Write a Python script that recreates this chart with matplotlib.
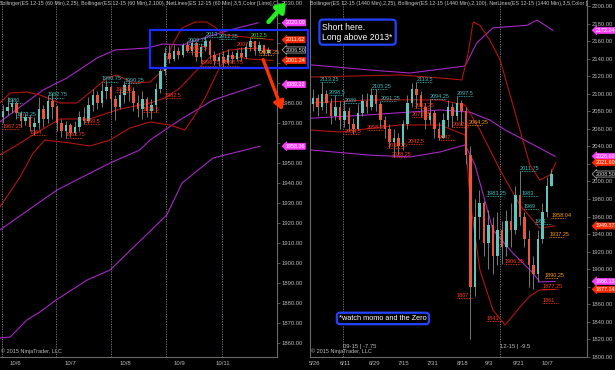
import matplotlib
matplotlib.use("Agg")
import matplotlib.pyplot as plt
import numpy as np
from matplotlib.patches import Rectangle
from matplotlib.transforms import blended_transform_factory

plt.rcParams['font.family'] = ['Liberation Sans', 'DejaVu Sans']

# ---------------- LEFT PANEL (ES 12-15, 60 min) ----------------
l_close = [1976, 1978, 1980, 1975, 1971, 1973, 1968, 1970, 1977, 1972,
           1981, 1978, 1970, 1966, 1969, 1965, 1968, 1973, 1971, 1979,
           1984, 1980, 1986, 1988, 1982, 1978, 1984, 1989, 1986, 1980,
           1977, 1982, 1976, 1979, 1987, 1996, 2005, 2002, 2006, 2004,
           2009, 2006, 2010, 2003, 2008, 2011, 2004, 2001, 2003, 2000,
           2004, 2002, 2005, 2003, 2008, 2011, 2006, 2009, 2005, 2006.5]
l_high = [1979, 1983, 1982.5, 1981, 1976, 1975, 1974, 1973, 1983, 1979,
          1984, 1985, 1979, 1972, 1971, 1970, 1971, 1976, 1978, 1983,
          1987, 1986, 1990, 1991.5, 1989, 1984, 1987, 1991, 1991, 1988,
          1984, 1986, 1983, 1982, 1990, 1998, 2008, 2009, 2009, 2008,
          2010, 2011, 2012, 2011, 2010, 2013.5, 2012, 2006, 2005, 2006,
          2007, 2006, 2007, 2008, 2010, 2012.5, 2011, 2011, 2009, 2008]
l_low = [1970, 1974, 1975, 1972, 1968, 1969, 1966, 1964, 1967, 1968,
         1970, 1972, 1966, 1963, 1962.75, 1963, 1964, 1966, 1969.5, 1970,
         1976, 1977, 1978, 1982, 1975, 1971.5, 1977, 1980, 1981, 1976,
         1973, 1972, 1973, 1972, 1975.5, 1985, 1994, 2000, 2001, 2002,
         2003, 2005.5, 2004, 2001, 2000, 2006, 2002, 1999, 1998.75, 1998,
         1999, 2000, 2001, 2001, 2002, 2006, 2004, 2005, 2004, 2004.25]
l_first_open = 1973

# band lines (bar index, price)
l_bb100_up_x = [-0.7, 8.9, 14.2, 20.9, 24.9, 32.0, 35.6, 40.0, 43.1, 50.4, 56.7]
l_bb100_up_y = [1970.5, 1986.5, 1992.5, 2002.5, 2006.5, 2007.5, 2009.5, 2009, 2011.5, 2016.5, 2020.09]
l_bb100_mid_x = [-0.7, 12.0, 23.8, 30.4, 32.7, 39.3, 46.7, 57.1]
l_bb100_mid_y = [1916.5, 1936.5, 1950, 1956.5, 1961.5, 1971.5, 1981.5, 1989.22]
l_bb100_lo_x = [-0.7, 1.6, 5.3, 8.2, 11.8, 18.7, 23.8, 36.4, 39.8, 46.7, 57.1]
l_bb100_lo_y = [1862.5, 1863, 1871.5, 1875.5, 1881.5, 1891.5, 1896.5, 1924, 1940, 1952.5, 1958.36]

l_bb25_up_x = [-0.7, 1.6, 5.3, 8.2, 12.7, 16.4, 20.0, 23.1, 25.3, 28.9, 32.7, 35.6,
               37.6, 39.8, 42.7, 45.3, 47.1, 49.3, 53.8, 60.0]
l_bb25_up_y = [1980, 1985, 1985.5, 1984, 1980, 1980, 1986.5, 1992.5, 1994, 1990, 1990.5, 1996.5,
               2009, 2017.5, 2020.5, 2020.5, 2018, 2014, 2013, 2011.62]
l_bb25_mid_x = [-0.7, 3.1, 8.1, 12.7, 19.3, 26.0, 32.7, 36.0, 39.3, 42.7, 46.0, 50.4, 56.0, 60.0]
l_bb25_mid_y = [1954, 1959, 1966, 1972, 1972, 1977, 1980, 1982.5, 1987.5, 1995.5, 2003, 2006.5, 2007.5, 2006.43]
l_bb25_lo_x = [-0.7, 3.8, 6.7, 9.3, 14.9, 19.3, 23.8, 28.2, 32.7, 37.1, 40.4, 42.7, 44.9, 48.2, 50.4, 54.9, 60.0]
l_bb25_lo_y = [1928, 1943, 1955, 1961.5, 1960, 1958.5, 1961.5, 1967.5, 1970.5, 1969, 1966.5, 1974, 1982.5, 1998, 2003.5, 2002, 2001.24]

l_dates = ['10/6', '10/7', '10/8', '10/9', '10/11']
l_date_pos = [2.7, 14.9, 27.1, 39.3, 48.9]
l_sessions = [-0.2, 11.8, 24.0, 36.2, 48.7]

l_cyan_v = [1980, 1973.25, 1982.75, 1990.75, 1990.25, 2009.75, 2013, 2012.25]
l_cyan_b = [1, 3, 10, 22, 27, 41, 45, 48]
l_red_v = [1967.25, 1964, 1962.75, 1969.5, 1985.5, 1975.5, 1982.5, 2005.75, 1998.75, 1998.75, 2007.75]
l_red_b = [0, 6, 14, 18, 25, 31, 36, 41, 44, 49, 52]
l_green_v = [2012.5]
l_green_b = [55]
l_orange_v = [2004.25]
l_orange_b = [57]

l_tags = [(2020.09, 'mag'), (2011.62, 'red'), (2006.50, 'last'), (2001.24, 'red'),
          (1989.22, 'mag'), (1958.36, 'mag')]

# ---------------- RIGHT PANEL (ES 12-15, 1440 min) ----------------
r_close = [2095, 2085, 2100, 2090, 2075, 2085, 2070, 2080, 2065, 2060,
           2078, 2092, 2085, 2098, 2088, 2070, 2060, 2045, 2050, 2040,
           2065, 2090, 2105, 2098, 2085, 2070, 2078, 2060, 2050, 2070,
           2085, 2075, 2090, 2080, 2030, 1880, 1960, 1975, 1930, 1950,
           1915, 1945, 1925, 1955, 1945, 1985, 1960, 1935, 1905, 1895,
           1935, 1965, 1995, 2008.5]
r_high = [2105, 2100, 2113, 2104, 2095, 2098, 2092, 2093, 2085, 2072,
          2088, 2100, 2101, 2106, 2105, 2092, 2075, 2065, 2060, 2055,
          2070, 2098, 2112, 2113.5, 2103, 2090, 2094.25, 2082, 2068, 2078,
          2093, 2090, 2097.5, 2093, 2085, 2040, 1980, 1990, 1978, 1968,
          1960, 1965, 1955, 1968, 1975, 1995, 2011.75, 1965, 1945, 1915,
          1945, 1975, 2005, 2014]
r_low = [2080, 2075, 2082, 2078, 2065, 2070, 2060, 2062, 2058, 2054.5,
         2058.25, 2075, 2078, 2082, 2080, 2062, 2050, 2038, 2028.25, 2030,
         2036, 2060, 2085, 2083.25, 2073, 2060, 2065, 2050, 2047, 2050,
         2062, 2062.5, 2070, 2064, 2020, 1820, 1870, 1935, 1915, 1900,
         1895, 1905, 1906.25, 1915, 1925, 1940, 1950, 1925, 1880, 1877.25,
         1885, 1930, 1960, 1995]
r_first_open = 2088

r_bb100_up_x = [-0.7, 12.7, 21.6, 33.8, 36.4, 40.0, 47.6, 49.8, 53.3]
r_bb100_up_y = [2133, 2127, 2123.6, 2131.6, 2158, 2175, 2178, 2184, 2172.24]
r_bb100_mid_x = [-0.7, 12.7, 28.2, 34.9, 39.3, 42.7, 48.2, 53.8]
r_bb100_mid_y = [2072, 2076, 2081.5, 2079, 2070, 2058.7, 2044, 2028.68]
r_bb100_lo_x = [-0.7, 12.7, 21.6, 28.2, 33.8, 36.0, 40.0, 44.4, 48.9, 50.4, 53.8]
r_bb100_lo_y = [2036, 2030, 2028, 2033.6, 2041.6, 2019, 1944.7, 1918.5, 1895.7, 1885.5, 1886.13]

r_bb25_up_x = [-0.7, 19.3, 28.2, 33.1, 34.4, 35.6, 37.1, 39.3, 41.6, 43.8, 46.0, 48.2, 50.4, 52.7, 54.0]
r_bb25_up_y = [2119, 2121.4, 2118, 2115.7, 2144, 2181.8, 2178, 2161, 2138.5, 2098.6, 2058.7, 2019, 2001.7, 2007.4, 2021.60]
r_bb25_mid_x = [-0.7, 12.7, 28.2, 33.8, 37.1, 41.6, 46.0, 50.4, 53.8]
r_bb25_mid_y = [2089.5, 2093, 2093, 2087, 2058.7, 2013, 1973, 1947, 1949.37]
r_bb25_lo_x = [-0.7, 6.0, 19.3, 28.2, 33.8, 34.9, 37.1, 40.0, 42.7, 46.0, 48.2, 50.4, 53.8]
r_bb25_lo_y = [2058.7, 2056.4, 2064.4, 2064.4, 2053, 1979, 1899, 1853.6, 1836.5, 1857, 1869.5, 1876.4, 1877.14]

r_dates = ['5/26', '6/11', '6/29', '7/15', '7/31', '8/18', '9/3', '9/21', '10/7']
r_date_pos = [0.4, 7.1, 13.6, 20.2, 26.6, 33.3, 39.1, 45.6, 52.0]
r_sessions = [6.7, 41.6]

r_cyan_v = [2113.25, 2098.5, 2089, 2105.25, 2091.25, 2113.5, 2094.25, 2097.5, 1983.25, 1983, 1969, 1951, 2011.75]
r_cyan_b = [1.5, 3.5, 7, 13, 15, 23, 26, 32, 38.5, 46.4, 46.8, 49.3, 46.0]
r_red_v = [2054.5, 2058.25, 2083.25, 2073.25, 2042.5, 2038.25, 2028.25, 2047, 2062.5, 1906.25, 1877.25, 1861, 1841, 1867]
r_red_b = [7, 12, 22.5, 22, 21, 16.5, 17.5, 28, 31, 42.5, 51, 51, 38.5, 32]
r_orange_v = [2064.25, 1958.04, 1937.25, 1890.25]
r_orange_b = [34.5, 53, 52.5, 51.5]

r_tags = [(2172.24, 'mag'), (2028.68, 'mag'), (2021.60, 'red'), (2008.50, 'last'),
          (1949.37, 'red'), (1886.13, 'mag'), (1877.14, 'red')]

# ---------------- styling ----------------
UP = '#5fc6bd'
DN = '#e8573a'
WICK = '#8a8a8a'
BB25 = '#b3140f'
BB100 = '#a628c4'
CYAN = '#3fbcbc'
RED = '#ff3a1a'
ORANGE = '#ff9a10'
GREEN = '#33dd22'
GRID = '#7d8796'
TXT = '#b8b8b8'

fig = plt.figure(figsize=(6.15, 3.70), dpi=100, facecolor='black')
axL = fig.add_axes([0.0, 13 / 370, 277 / 615, 357 / 370])
axR = fig.add_axes([310 / 615, 13 / 370, 277 / 615, 357 / 370])


def draw_candles(ax, first_open, h, lo, c):
    o = [first_open] + list(c[:-1])
    x = np.arange(len(c))
    ax.vlines(x, lo, h, colors=WICK, lw=0.6, zorder=3)
    for i in range(len(c)):
        col = UP if c[i] >= o[i] else DN
        bot = min(o[i], c[i])
        hgt = max(abs(c[i] - o[i]), 0.4)
        ax.bar(x[i], hgt, bottom=bot, width=0.55, color=col, lw=0, zorder=4)


def net_labels(ax, vals, bars, color, span):
    for v, b in zip(vals, bars):
        ax.text(b, v, f"{v:g}", color=color, fontsize=4, ha='left', va='bottom', zorder=6)
        ax.hlines(v, b, b + span, colors=color, linestyles=(0, (1, 1)), lw=0.6, zorder=6)


def price_tags(ax, tags):
    tr = blended_transform_factory(ax.transAxes, ax.transData)
    for v, kind in tags:
        if kind == 'mag':
            fc, ec, tc = '#ff3dff', '#ff3dff', 'white'
        elif kind == 'red':
            fc, ec, tc = '#ff2a00', '#ff2a00', 'white'
        else:
            fc, ec, tc = 'black', '#c0c0c0', '#e0e0e0'
        ax.text(1.03, v, f"{v:.2f}", transform=tr, fontsize=3.9, color=tc, va='center', ha='left',
                bbox=dict(boxstyle='larrow,pad=0.1', fc=fc, ec=ec, lw=0.5), clip_on=False, zorder=12)


def style_axis(ax, ylim, yticks, dates, dpos, sessions, tags, gap):
    ax.set_facecolor('black')
    ax.set_xlim(-0.667, 60.9)
    ax.set_ylim(*ylim)
    ax.yaxis.tick_right()
    ax.set_yticks(yticks)
    tagv = [v for v, _ in tags]
    labels = []
    for t in yticks:
        hidden = any(abs(t - v) < gap for v in tagv)
        labels.append('' if hidden else f"{t:.2f}")
    ax.set_yticklabels(labels)
    ax.tick_params(axis='y', colors='#777777', labelcolor=TXT, labelsize=4.2, length=2, width=0.5, pad=1.5)
    ax.set_xticks(dpos)
    ax.set_xticklabels(dates)
    ax.tick_params(axis='x', colors='#777777', labelcolor=TXT, labelsize=4.3, length=0, pad=3)
    for s in ['top', 'left']:
        ax.spines[s].set_visible(False)
    for s in ['right', 'bottom']:
        ax.spines[s].set_color('#6a6a6a')
        ax.spines[s].set_linewidth(0.8)
    for xs in sessions:
        ax.axvline(xs, color=GRID, lw=0.6, ls=(0, (1.5, 1.5)), zorder=1)


# ---- left ----
style_axis(axL, (1853, 2031.5), list(range(1860, 2031, 10)), l_dates, l_date_pos, l_sessions, l_tags, 3.2)
axL.plot(l_bb100_up_x, l_bb100_up_y, color=BB100, lw=0.8, zorder=2)
axL.plot(l_bb100_mid_x, l_bb100_mid_y, color=BB100, lw=0.8, zorder=2)
axL.plot(l_bb100_lo_x, l_bb100_lo_y, color=BB100, lw=0.8, zorder=2)
axL.plot(l_bb25_up_x, l_bb25_up_y, color=BB25, lw=0.8, zorder=2)
axL.plot(l_bb25_mid_x, l_bb25_mid_y, color=BB25, lw=0.8, zorder=2)
axL.plot(l_bb25_lo_x, l_bb25_lo_y, color=BB25, lw=0.8, zorder=2)
draw_candles(axL, l_first_open, l_high, l_low, l_close)
net_labels(axL, l_cyan_v, l_cyan_b, CYAN, 3.5)
net_labels(axL, l_red_v, l_red_b, RED, 3.5)
net_labels(axL, l_green_v, l_green_b, GREEN, 3.0)
net_labels(axL, l_orange_v, l_orange_b, ORANGE, 3.0)
price_tags(axL, l_tags)
axL.text(-0.005, 0.997, "Bollinger(ES 12-15 (60 Min),2,25), Bollinger(ES 12-15 (60 Min),2,100), "
         "NetLines(ES 12-15 (60 Min),3,5,Color [Lime],C", transform=axL.transAxes,
         fontsize=3.8, color='#c8c8c8', va='top', ha='left', zorder=8)
axL.text(0.005, 0.008, "© 2015 NinjaTrader, LLC", transform=axL.transAxes, fontsize=4,
         color='#bdbdbd', va='bottom', ha='left')
# annotations: blue box and arrows
axL.add_patch(Rectangle((32.7, 1997.5), 35.1, 19.0, fill=False, ec='#1a2cff', lw=1.6,
                        clip_on=False, zorder=9))
axL.annotate('', xy=(63.3, 2031.3), xytext=(58.6, 2019.5),
             arrowprops=dict(arrowstyle='-|>,head_length=0.5,head_width=0.35', color='#22ee22', lw=3.2),
             annotation_clip=False, zorder=11)
axL.annotate('', xy=(62.3, 1975), xytext=(57.6, 2003),
             arrowprops=dict(arrowstyle='-|>,head_length=0.5,head_width=0.3', color='#ff3300', lw=2.4),
             annotation_clip=False, zorder=11)

# ---- right ----
style_axis(axR, (1800, 2206.8), list(range(1800, 2201, 20)), r_dates, r_date_pos, r_sessions, r_tags, 6.5)
axR.spines['left'].set_visible(True)
axR.spines['left'].set_color('#6a6a6a')
axR.plot(r_bb100_up_x, r_bb100_up_y, color=BB100, lw=0.8, zorder=2)
axR.plot(r_bb100_mid_x, r_bb100_mid_y, color=BB100, lw=0.8, zorder=2)
axR.plot(r_bb100_lo_x, r_bb100_lo_y, color=BB100, lw=0.8, zorder=2)
axR.plot(r_bb25_up_x, r_bb25_up_y, color=BB25, lw=0.8, zorder=2)
axR.plot(r_bb25_mid_x, r_bb25_mid_y, color=BB25, lw=0.8, zorder=2)
axR.plot(r_bb25_lo_x, r_bb25_lo_y, color=BB25, lw=0.8, zorder=2)
draw_candles(axR, r_first_open, r_high, r_low, r_close)
net_labels(axR, r_cyan_v, r_cyan_b, CYAN, 3.5)
net_labels(axR, r_red_v, r_red_b, RED, 3.5)
net_labels(axR, r_orange_v, r_orange_b, ORANGE, 3.0)
price_tags(axR, r_tags)
axR.text(0.0, 0.997, "Bollinger(ES 12-15 (1440 Min),2,25), Bollinger(ES 12-15 (1440 Min),2,100), "
         "NetLines(ES 12-15 (1440 Min),3,5,Color [", transform=axR.transAxes,
         fontsize=3.8, color='#c8c8c8', va='top', ha='left', zorder=8)
axR.text(0.005, 0.008, "© 2015 NinjaTrader, LLC", transform=axR.transAxes, fontsize=4,
         color='#bdbdbd', va='bottom', ha='left')
axR.text(0.119, 0.025, "09-15 | -7.75", transform=axR.transAxes, fontsize=4.2, color='#bdbdbd')
axR.text(0.686, 0.025, "12-15 | -9.5", transform=axR.transAxes, fontsize=4.2, color='#bdbdbd')
axR.text(0.045, 0.91, "Short here.\nLong above 2013*", transform=axR.transAxes, fontsize=6.2,
         color='white', va='center', ha='left', linespacing=1.15, zorder=12,
         bbox=dict(boxstyle='round,pad=0.35,rounding_size=0.4', fc='black', ec='#2244ff', lw=1.6))
axR.text(0.105, 0.108, "*watch momo and the Zero", transform=axR.transAxes, fontsize=5.3,
         color='white', va='center', ha='left', zorder=12,
         bbox=dict(boxstyle='round,pad=0.3,rounding_size=0.4', fc='black', ec='#2244ff', lw=1.6))

fig.savefig('out.png', dpi=100, facecolor='black')
